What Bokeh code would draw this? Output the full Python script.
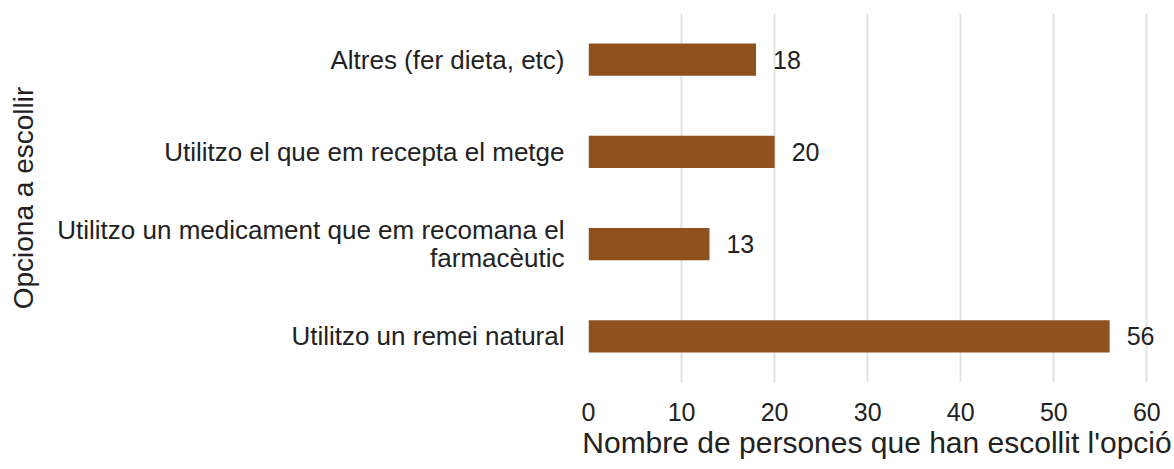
from bokeh.plotting import figure
from bokeh.models import ColumnDataSource, FactorRange, Range1d, LabelSet, FixedTicker
from bokeh.core.properties import value
from bokeh.embed import file_html
from bokeh.resources import INLINE

categories = [
    "Altres (fer dieta, etc)",
    "Utilitzo el que em recepta el metge",
    "Utilitzo un medicament que em recomana el\nfarmacèutic",
    "Utilitzo un remei natural",
]
values = [18, 20, 13, 56]
value_labels = [str(v) for v in values]
x_ticks = [0, 10, 20, 30, 40, 50, 60]
x_title = "Nombre de persones que han escollit l'opció"
y_title = "Opciona a escollir"

FONT = "Liberation Sans"
TEXT = "#222222"
BAR = "#8F521F"

source = ColumnDataSource(data=dict(cat=categories, val=values, lab=value_labels))

p = figure(
    width=1174, height=469,
    y_range=FactorRange(factors=list(reversed(categories)), range_padding=0),
    x_range=Range1d(0, 62),
    output_backend="svg", toolbar_location=None,
    min_border_left=588, min_border_right=9, min_border_top=13, min_border_bottom=87,
)

p.hbar(y="cat", right="val", height=0.35, left=0, source=source,
       fill_color=BAR, line_color=None)

labels = LabelSet(x="val", y="cat", text="lab", source=source, x_offset=17,
                  text_baseline="middle", text_align="left",
                  text_font=value(FONT), text_font_size=value("25px"),
                  text_color=TEXT)
p.add_layout(labels)

p.outline_line_color = None
p.background_fill_color = "white"
p.border_fill_color = "white"

p.ygrid.grid_line_color = None
p.xgrid.grid_line_color = "#e2e2e2"
p.xgrid.grid_line_width = 2

p.xaxis.ticker = FixedTicker(ticks=x_ticks)
for ax in (p.xaxis[0], p.yaxis[0]):
    ax.axis_line_color = None
    ax.major_tick_line_color = None
    ax.minor_tick_line_color = None
    ax.major_tick_out = 0
    ax.major_tick_in = 0
    ax.major_label_text_font = FONT
    ax.major_label_text_color = TEXT
    ax.axis_label_text_font = FONT
    ax.axis_label_text_color = TEXT
    ax.axis_label_text_font_style = "normal"

p.xaxis.axis_label = x_title
p.xaxis.major_label_text_font_size = "25px"
p.xaxis.axis_label_text_font_size = "30px"
p.xaxis.major_label_standoff = 20
p.xaxis.axis_label_standoff = 2

p.yaxis.axis_label = y_title
p.yaxis.major_label_text_font_size = "26px"
p.yaxis.major_label_text_line_height = 0.92
p.yaxis.axis_label_text_font_size = "28px"
p.yaxis.major_label_standoff = 24
p.yaxis.axis_label_standoff = 15

open("out.html", "w").write(file_html(p, INLINE))
